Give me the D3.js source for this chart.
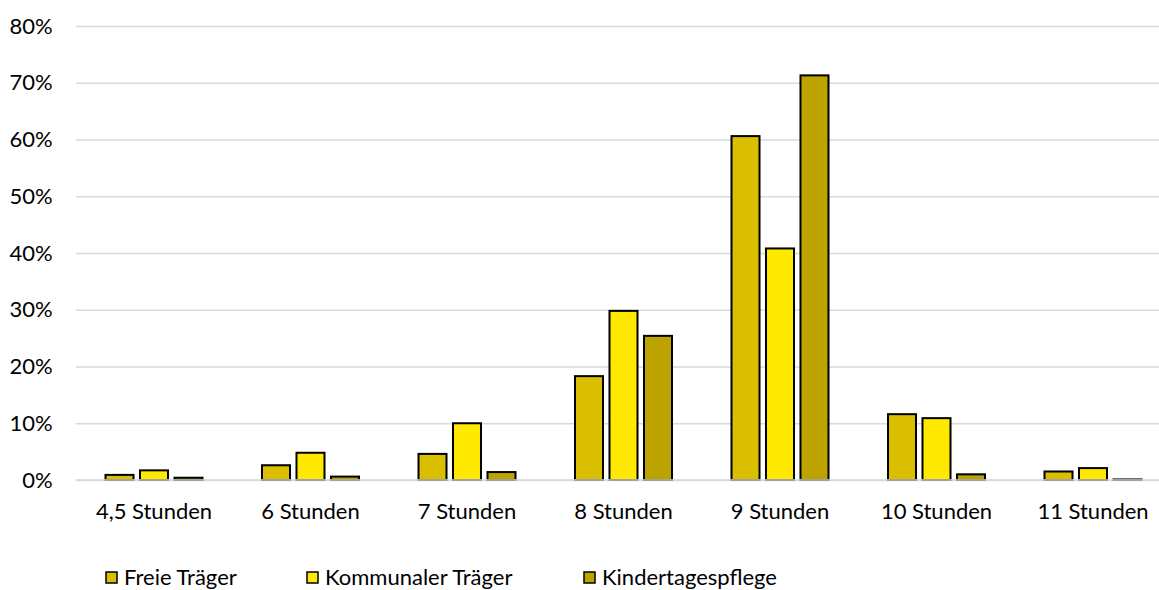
<!DOCTYPE html>
<html>
<head>
<meta charset="utf-8">
<script src="https://cdn.jsdelivr.net/npm/d3@7"></script>
<style>
  html, body { margin: 0; padding: 0; background: #fff; }
  svg { display: block; font-family: Lato, "Open Sans", sans-serif; }
</style>
</head>
<body>
<svg id="chart" width="1159" height="590"></svg>
<script>
// Betreuungsumfang nach Träger (Anteile in %)
const categories = ["4,5 Stunden", "6 Stunden", "7 Stunden", "8 Stunden", "9 Stunden", "10 Stunden", "11 Stunden"];
const seriesNames = ["Freie Träger", "Kommunaler Träger", "Kindertagespflege"];
const freieTraeger = [0.9, 2.6, 4.6, 18.3, 60.6, 11.6, 1.5];
const kommunalerTraeger = [1.7, 4.8, 10.0, 29.8, 40.8, 10.9, 2.1];
const kindertagespflege = [0.4, 0.6, 1.4, 25.4, 71.3, 1.0, 0.1];
const yTicks = [0, 10, 20, 30, 40, 50, 60, 70, 80];
const colors = ["#dabe00", "#ffe900", "#bca300"];

const seriesValues = [freieTraeger, kommunalerTraeger, kindertagespflege];
const rows = categories.map((c, i) => ({
  cat: c,
  vals: seriesNames.map((s, k) => ({ key: s, k, v: seriesValues[k][i] }))
}));

const svg = d3.select("#chart");
const plotLeft = 75.75, step = 156.5;
const plotRight = plotLeft + step * categories.length;
const plotTop = 26, plotBottom = 480;
const fontSize = 22;

const x0 = d3.scaleBand().domain(categories).range([plotLeft, plotRight]).padding(0);
const groupSpan = 97;
const x1 = d3.scaleBand().domain(seriesNames)
  .range([(step - groupSpan) / 2, (step + groupSpan) / 2])
  .paddingInner(0.188).paddingOuter(0);
const y = d3.scaleLinear().domain([0, 80]).range([plotBottom, plotTop]);

// horizontal gridlines with percent labels
const yAxis = d3.axisLeft(y).tickValues(yTicks).tickSize(-(plotRight - plotLeft)).tickPadding(23)
  .tickFormat(d => d + "%");
const gy = svg.append("g").attr("transform", `translate(${plotLeft},0)`).call(yAxis);
gy.select(".domain").remove();
gy.selectAll(".tick line").attr("stroke", "#d9d9d9").attr("stroke-width", 1.5);
gy.selectAll(".tick text").attr("font-size", fontSize).attr("fill", "#000")
  .attr("font-family", "Lato, sans-serif");

// bars
const groups = svg.append("g").selectAll("g").data(rows).join("g")
  .attr("transform", d => `translate(${x0(d.cat)},0)`);
groups.selectAll("rect").data(d => d.vals).join("rect")
  .attr("x", d => x1(d.key))
  .attr("width", x1.bandwidth())
  .attr("y", d => y(d.v))
  .attr("height", d => y(0) - y(d.v))
  .attr("fill", d => colors[d.k])
  .attr("stroke", "#000")
  .attr("stroke-width", 2);

// baseline
svg.append("line").attr("x1", plotLeft).attr("x2", plotRight).attr("y1", y(0)).attr("y2", y(0))
  .attr("stroke", "#d9d9d9").attr("stroke-width", 1.5);

// category labels
const xAxis = d3.axisBottom(x0).tickSize(0);
const gx = svg.append("g").attr("transform", `translate(0,${plotBottom})`).call(xAxis);
gx.select(".domain").remove();
gx.selectAll(".tick text").attr("font-size", fontSize).attr("fill", "#000")
  .attr("font-family", "Lato, sans-serif").attr("y", 39).attr("dy", 0);

// legend
const legendX = [106, 307, 584];
const lg = svg.append("g").selectAll("g").data(seriesNames).join("g")
  .attr("transform", (d, i) => `translate(${legendX[i]},572)`);
lg.append("rect").attr("width", 11).attr("height", 11)
  .attr("fill", (d, i) => colors[i]).attr("stroke", "#000").attr("stroke-width", 1.5);
lg.append("text").attr("x", 18).attr("y", 13).attr("font-size", fontSize)
  .attr("font-family", "Lato, sans-serif").text(d => d);
</script>
</body>
</html>
